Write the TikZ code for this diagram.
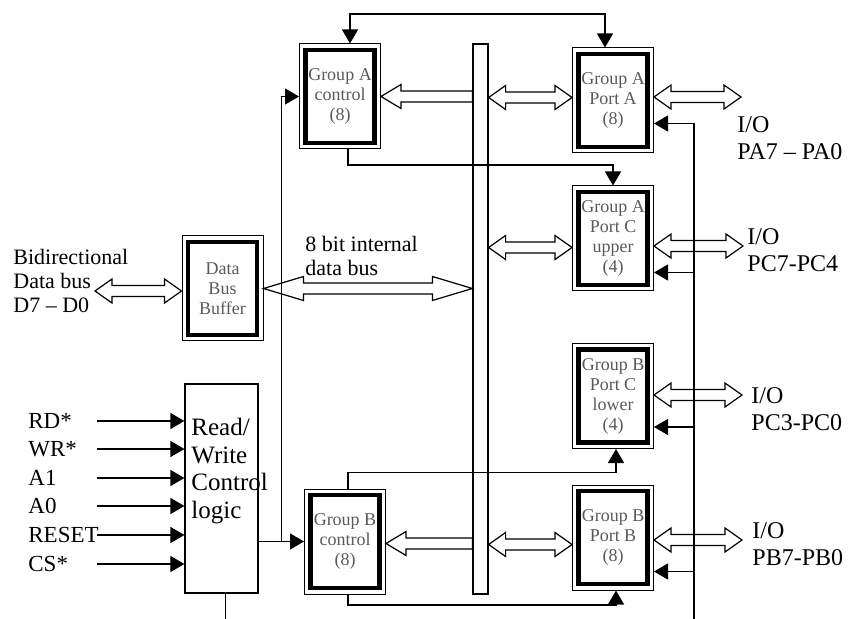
\documentclass[tikz,border=0pt]{standalone}
\usepackage{fontspec}
\setmainfont{Liberation Serif}
\usetikzlibrary{arrows.meta,calc}
\newcommand{\lblfont}{\fontsize{11}{12}\selectfont}
\newcommand{\iofont}{\fontsize{12}{13.5}\selectfont}
\newcommand{\rwfont}{\fontsize{12.5}{13.7}\selectfont}
\newcommand{\chipfont}{\fontsize{9}{10}\selectfont}
% hollow bus arrows: x from #2 and #3, y from #4
\newcommand{\fatboth}[4][8.5pt]{%
  \draw[busarrow] let \p1=(#2), \p2=(#3), \p3=(#4) in
    (\x1,\y3) -- (\x1+#1,\y3+6pt) -- (\x1+#1,\y3+2.75pt) -- (\x2-#1,\y3+2.75pt)
    -- (\x2-#1,\y3+6pt) -- (\x2,\y3) -- (\x2-#1,\y3-6pt) -- (\x2-#1,\y3-2.75pt)
    -- (\x1+#1,\y3-2.75pt) -- (\x1+#1,\y3-6pt) -- cycle;}
\newcommand{\fatleft}[4][10pt]{%
  \draw[busarrow] let \p1=(#2), \p2=(#3), \p3=(#4) in
    (\x1,\y3) -- (\x1+#1,\y3+6pt) -- (\x1+#1,\y3+2.75pt) -- (\x2,\y3+2.75pt)
    -- (\x2,\y3-2.75pt) -- (\x1+#1,\y3-2.75pt) -- (\x1+#1,\y3-6pt) -- cycle;}

\begin{document}
\begin{tikzpicture}[x=0.5pt,y=-0.5pt,
  chip/.style={draw,line width=0.5pt,minimum width=40.5pt,minimum height=52.5pt,
    inner sep=1pt,align=center,font=\chipfont,text=black!65},
  core/.style={line width=2.2pt},
  wire/.style={line width=0.6pt},
  ctl/.style={wire,-{Triangle[length=7pt,width=8pt]}},
  ctlboth/.style={wire,{Triangle[length=7pt,width=8pt]}-{Triangle[length=7pt,width=8pt]}},
  busarrow/.style={draw,line width=0.6pt},
  lbl/.style={inner sep=0pt,align=left,font=\lblfont},
  io/.style={inner sep=0pt,align=left,font=\iofont}]
  \useasboundingbox (0,0) rectangle (855,619);

  % blocks
  \node[chip] (gac) at (340,96.5) {Group A\\control\\(8)};
  \node[chip] (pa)  at (613,100.5) {Group A\\Port A\\(8)};
  \node[chip] (pcu) at (613,238.5) {Group A\\Port C\\upper\\(4)};
  \node[chip] (pcl) at (613,396) {Group B\\Port C\\lower\\(4)};
  \node[chip] (pb)  at (613,537.5) {Group B\\Port B\\(8)};
  \node[chip] (gbc) at (345,541.5) {Group B\\control\\(8)};
  \node[chip] (dbb) at (222.5,288.5) {Data\\Bus\\Buffer};
  \foreach \n in {gac,pa,pcu,pcl,pb,gbc,dbb}
    \draw[core] ([shift={(3.2pt,3.2pt)}]\n.south west) rectangle ([shift={(-3.2pt,-3.2pt)}]\n.north east);
  \node[draw,wire,minimum width=36.5pt,minimum height=104.5pt] (rw) at (221.5,488.5) {};
  \node[draw,wire,minimum width=7.5pt,minimum height=275pt] (ibus) at (480.5,319) {};

  % texts
  \node[lbl,anchor=west] (bidir) at (13,281) {Bidirectional\\Data bus\\D7 -- D0};
  \node[lbl,anchor=west] (ibuslbl) at (305,256) {8 bit internal\\data bus};
  \node[inner sep=0pt,align=left,font=\rwfont,anchor=west] (rwlbl) at (191,471) {Read/\\Write\\Control\\logic};
  \node[io,anchor=west] (ioa)  at (737,138) {I/O\\PA7 -- PA0};
  \node[io,anchor=west] (iocu) at (747,250) {I/O\\PC7-PC4};
  \node[io,anchor=west] (iocl) at (751,409) {I/O\\PC3-PC0};
  \node[io,anchor=west] (iob)  at (752,544) {I/O\\PB7-PB0};

  % bus arrows
  \coordinate (dext) at (95,291);
  \coordinate (paio) at (741,97);
  \coordinate (pcuio) at (743,246);
  \coordinate (pclio) at (742,395);
  \coordinate (pbio) at (742,540);
  \fatboth{dext}{dbb.west}{dext}
  \fatboth[20pt]{dbb.east}{ibus.west}{dbb.east}
  \fatleft{gac.east}{ibus.west}{gac.east}
  \fatboth{ibus.east}{pa.west}{[yshift=1.5pt]pa.west}
  \fatboth{pa.east}{paio}{paio}
  \fatboth{ibus.east}{pcu.west}{[yshift=-4.5pt]pcu.west}
  \fatboth{pcu.east}{pcuio}{pcuio}
  \fatboth{pcl.east}{pclio}{pclio}
  \fatleft{gbc.east}{ibus.west}{[yshift=-1pt]gbc.east}
  \fatboth{ibus.east}{pb.west}{[yshift=-3.5pt]pb.west}
  \fatboth{pb.east}{pbio}{pbio}

  % control lines
  \draw[ctlboth] ([xshift=5pt]gac.north) -- ++(0,-29.5) -| ([xshift=-4pt]pa.north);
  \draw[ctl] ([xshift=4pt]gac.south) -- ++(0,15.5) -| (pcu.north);
  \draw[ctl] ([xshift=1.5pt]gbc.north) -- ++(0,-16) -| ([xshift=1.5pt]pcl.south);
  \draw[ctl] ([xshift=1.5pt]gbc.south) -- ++(0,10.5) -| ([xshift=1.5pt]pb.south);
  \draw[ctl] (rw.east |- gbc.west) -- (gbc.west);
  \coordinate (jn) at ($(rw.east |- gbc.west)!.5!(gbc.west)$);
  \draw[ctl] (jn) |- (gac.west);
  \draw[wire] ([xshift=2pt]rw.south) -- ++(0,30);
  \foreach \s/\y [count=\i] in {RD*/421,WR*/449,A1/478,A0/506,RESET/535,CS*/564}
  {
    \node[lbl,font=\fontsize{11.5}{12}\selectfont,anchor=west] (in\i) at (28,\y) {\s};
    \draw[ctl] (in\i.west) ++(69,0) -- (in\i.west -| rw.west);
  }
  \coordinate (cbtop) at (694,123);
  \coordinate (cbbot) at (694,619);
  \draw[wire] (cbtop) -- (cbbot);
  \foreach \n/\dy in {pa/11.5pt,pcu/17pt,pcl/15.5pt,pb/17pt}
    \draw[ctl] ([yshift=-\dy]\n.east) ++(40.5,0) -- ([yshift=-\dy]\n.east);
\end{tikzpicture}
\end{document}
